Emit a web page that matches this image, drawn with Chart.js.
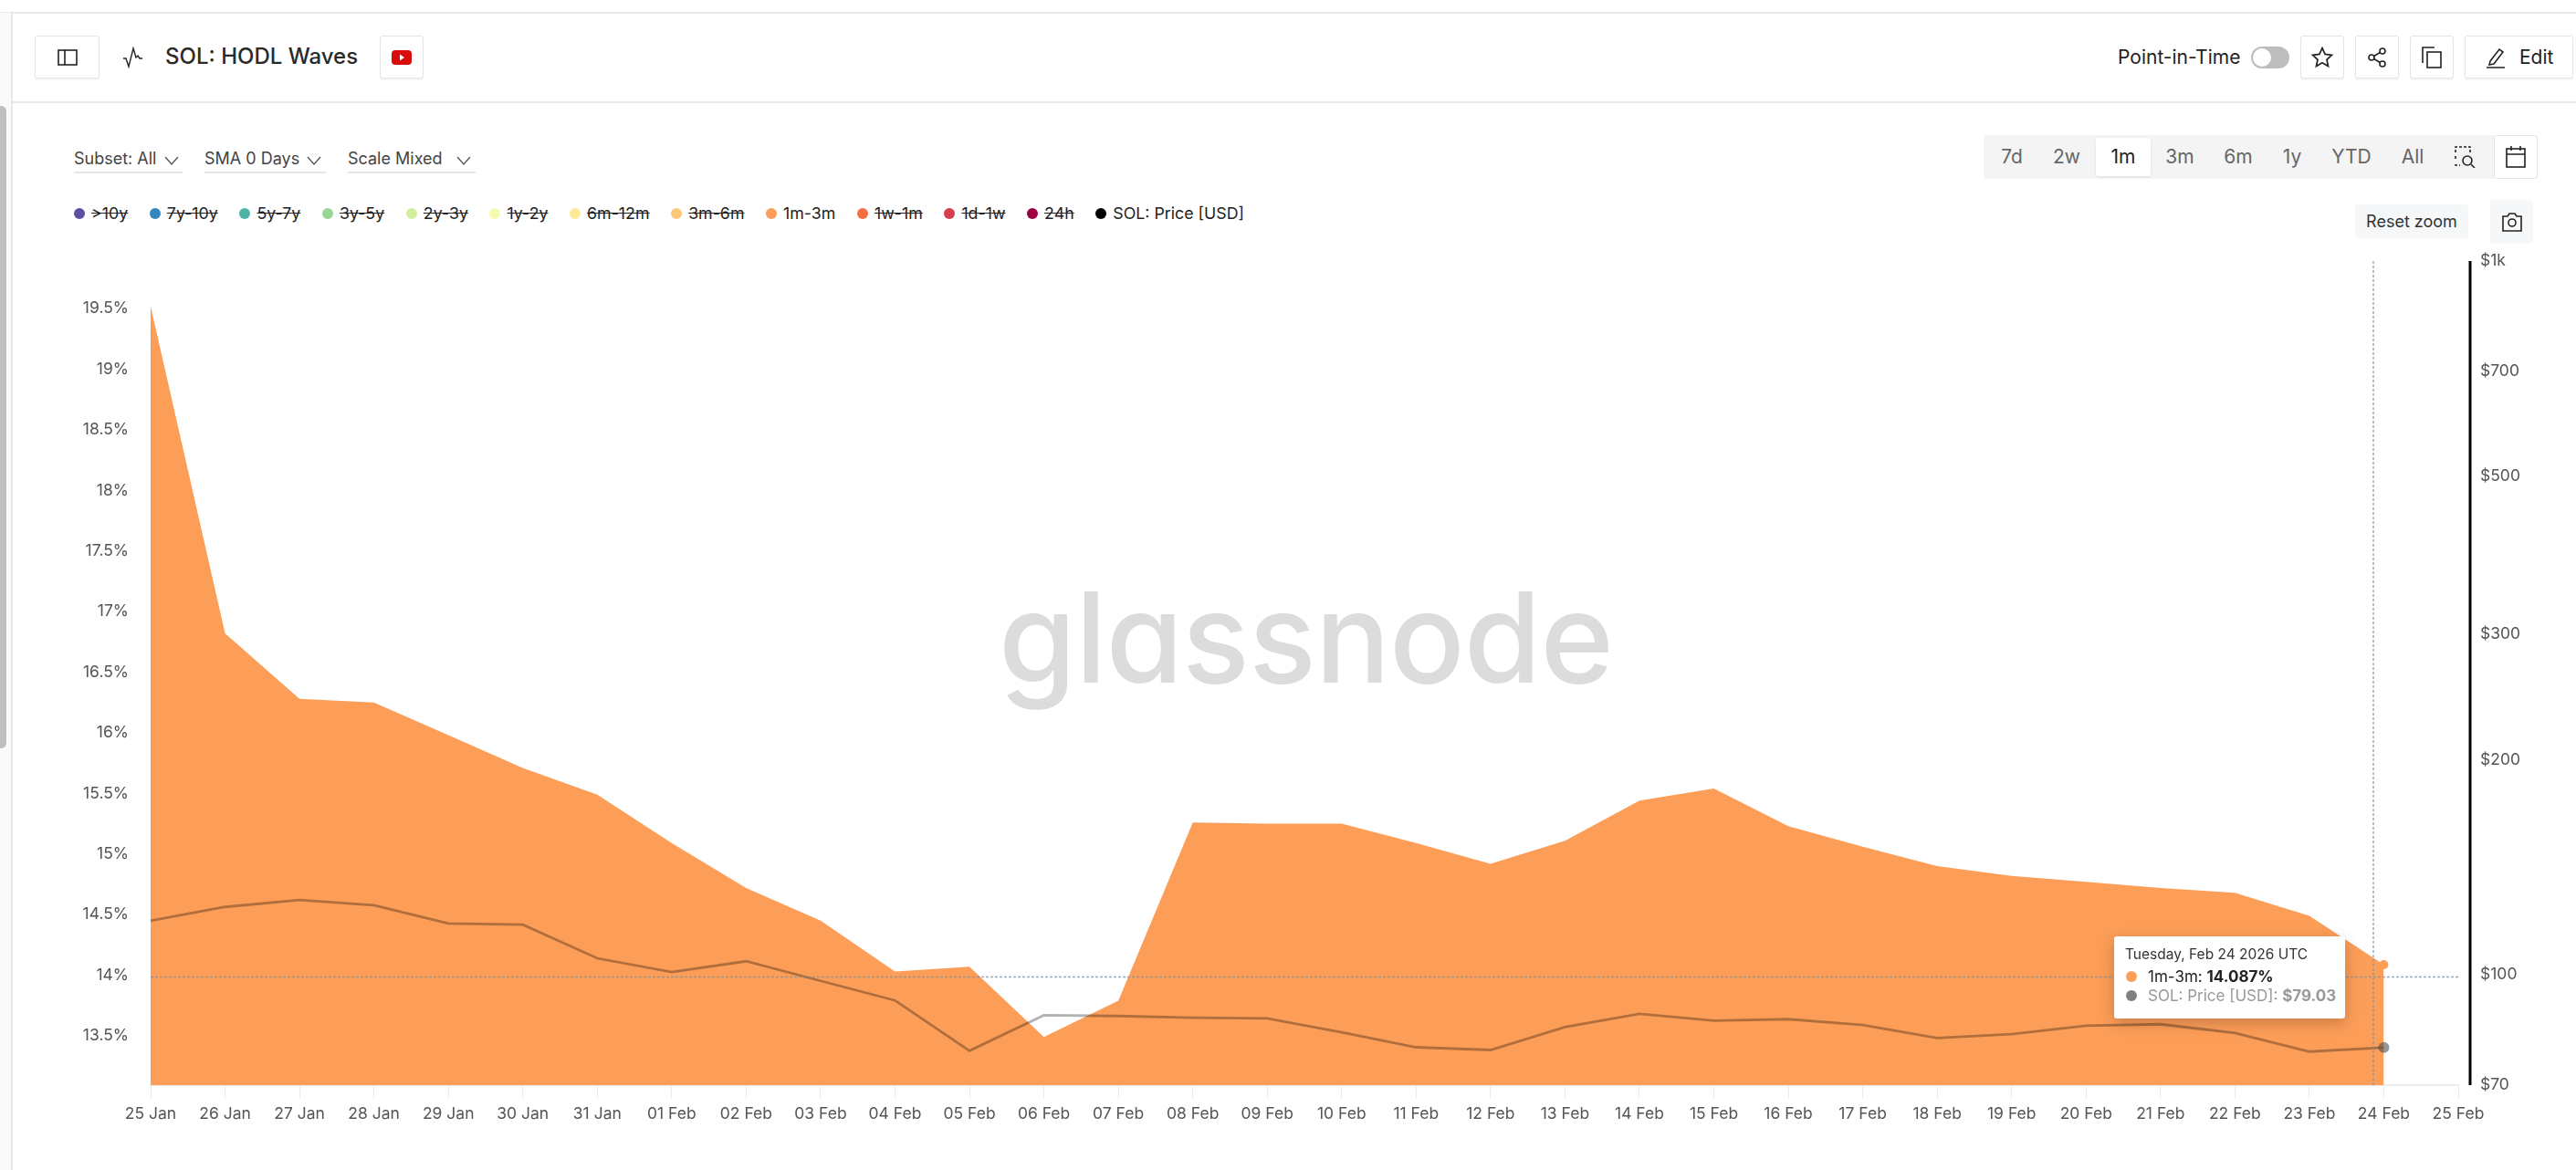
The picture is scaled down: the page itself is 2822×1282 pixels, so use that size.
<!DOCTYPE html>
<html>
<head>
<meta charset="utf-8">
<title>SOL: HODL Waves</title>
<script src="https://cdn.jsdelivr.net/npm/chart.js@4"></script>
<style>
  * { box-sizing: border-box; }
  html, body { margin: 0; padding: 0; width: 2822px; height: 1282px; overflow: hidden; background: #fff; font-family: Inter, sans-serif; color: #222; }
  .abs { position: absolute; }
  .btn { position: absolute; top: 39px; height: 47px; background: #fff; border: 1px solid #e4e4e6; border-radius: 3px; box-shadow: 0 2px 2px rgba(0,0,0,.05); display: flex; align-items: center; justify-content: center; }
  svg { display: block; fill: none; stroke: #222; stroke-width: 1.6; }
  #strip { left: 0; top: 14px; width: 14px; height: 1268px; background: #fafafa; border-right: 2px solid #e8e8e8; }
  #scrollbar { left: 0; top: 116px; width: 7px; height: 704px; background: #bfbfbf; border-radius: 0 6px 6px 0; }
  #topline { left: 0; top: 13px; width: 2822px; height: 2px; background: #e8e8e8; }
  #headline { left: 14px; top: 111px; width: 2808px; height: 2px; background: #e8e8e8; }
  #title { left: 181px; top: 47px; font-size: 24px; line-height: 30px; font-weight: 500; color: #2a2a2a; white-space: nowrap; }
  #pit { left: 2320px; top: 49px; font-size: 21px; line-height: 28px; white-space: nowrap; }
  #toggle { left: 2466px; top: 51px; width: 42px; height: 24px; border-radius: 12px; background: #bdbdbd; }
  #toggle i { position: absolute; left: 2px; top: 2px; width: 20px; height: 20px; border-radius: 50%; background: #fff; }
  .drop { position: absolute; top: 160px; height: 30px; border-bottom: 2px solid #e6e6e6; font-size: 18px; line-height: 28px; color: #444; white-space: nowrap; }
  .drop svg { position: absolute; top: 10px; stroke: #555; stroke-width: 1.3; }
  #ranges { left: 2173px; top: 148px; width: 559px; height: 48px; background: #f4f4f5; border-radius: 3px 0 0 3px; }
  #rangeOn { left: 2296px; top: 151px; width: 60px; height: 42px; background: #fff; border-radius: 3px; box-shadow: 0 1px 3px rgba(0,0,0,.1); }
  .range { position: absolute; top: 148px; height: 48px; line-height: 48px; font-size: 21px; color: #666; transform: translateX(-50%); white-space: nowrap; }
  #legend { left: 81px; top: 222px; height: 24px; display: flex; font-size: 17.8px; line-height: 24px; color: #222; white-space: nowrap; }
  #legend .item { display: flex; align-items: center; margin-right: 23.6px; }
  #legend .dot { width: 12px; height: 12px; border-radius: 50%; margin-right: 7px; }
  #legend .off span { text-decoration: line-through; }
  #reset { left: 2580px; top: 224px; width: 124px; height: 37px; background: #f6f7f9; border-radius: 4px; font-size: 18px; line-height: 37px; text-align: center; color: #333; }
  #camera { left: 2728px; top: 219px; width: 47px; height: 48px; background: #f6f7f9; border-radius: 4px; display: flex; align-items: center; justify-content: center; }
  #mark { left: 1094px; top: 613px; font-size: 137px; line-height: 170px; font-weight: 500; color: #dcdcdc; letter-spacing: -1px; font-feature-settings: 'cv11' 1; white-space: nowrap; }
  #chart { position: absolute; left: 0; top: 0; }
  #tip { left: 2316px; top: 1026px; width: 253px; height: 90px; background: #fff; border-radius: 3px; box-shadow: 0 5px 18px rgba(0,0,0,.22); }
  #tip div { position: absolute; white-space: nowrap; }
  #tipDate { left: 12px; top: 10px; font-size: 15.5px; line-height: 20px; color: #333; }
  .tipDot { left: 13px; width: 12px; height: 12px; border-radius: 50%; }
  .tipRow { left: 37px; font-size: 17px; line-height: 22px; }
</style>
</head>
<body>
<div class="abs" id="topline"></div>
<div class="abs" id="strip"></div>
<div class="abs" id="scrollbar"></div>
<div class="abs" id="headline"></div>

<div class="btn" style="left:38px;width:71px"><svg width="24" height="20" viewBox="0 0 24 20"><rect x="2" y="2" width="20" height="16"/><line x1="9" y1="2" x2="9" y2="18"/></svg></div>
<svg class="abs" style="left:134px;top:51px" width="24" height="24" viewBox="0 0 24 24"><path d="M1 13h3l3 9 5-20 3 10 2-2 2 3h3" stroke-width="1.4"/></svg>
<div class="abs" id="title">SOL: HODL Waves</div>
<div class="btn" style="left:416px;width:48px"><svg width="24" height="18" viewBox="0 0 24 18" style="stroke:none"><rect x="1" y="1" width="22" height="16" rx="4" fill="#d90c0c"/><path d="M10 5.5l5 3.5-5 3.5z" fill="#fff"/></svg></div>

<div class="abs" id="pit">Point-in-Time</div>
<div class="abs" id="toggle"><i></i></div>
<div class="btn" style="left:2520px;width:48px"><svg width="26" height="26" viewBox="0 0 24 24"><path d="M12 2.5l2.9 6.2 6.7.8-5 4.6 1.4 6.7-6-3.4-6 3.4 1.4-6.7-5-4.6 6.7-.8z"/></svg></div>
<div class="btn" style="left:2580px;width:48px"><svg width="24" height="24" viewBox="0 0 24 24"><circle cx="18" cy="5" r="3"/><circle cx="6" cy="12" r="3"/><circle cx="18" cy="19" r="3"/><path d="M8.6 10.5l6.8-4M8.6 13.5l6.8 4"/></svg></div>
<div class="btn" style="left:2640px;width:48px"><svg width="24" height="24" viewBox="0 0 24 24"><rect x="7" y="6" width="15" height="17"/><path d="M2 18V1h13"/></svg></div>
<div class="btn" style="left:2700px;width:119px;justify-content:flex-start"><svg style="margin-left:21px" width="24" height="24" viewBox="0 0 24 24"><path d="M6 16L16 3l4 3-10 13-5 1zM2 23h20"/></svg><span style="margin-left:14px;font-size:21px;color:#222">Edit</span></div>

<div class="drop" style="left:81px;width:119px">Subset: All<svg style="left:99px" width="16" height="12" viewBox="0 0 16 12"><path d="M1 2l7 8 7-8"/></svg></div>
<div class="drop" style="left:224px;width:133px">SMA 0 Days<svg style="left:112px" width="16" height="12" viewBox="0 0 16 12"><path d="M1 2l7 8 7-8"/></svg></div>
<div class="drop" style="left:381px;width:140px">Scale Mixed<svg style="left:119px" width="16" height="12" viewBox="0 0 16 12"><path d="M1 2l7 8 7-8"/></svg></div>

<div class="abs" id="ranges"></div>
<div class="abs" id="rangeOn"></div>
<div class="range" style="left:2204px">7d</div>
<div class="range" style="left:2264px">2w</div>
<div class="range" style="left:2326px;color:#222">1m</div>
<div class="range" style="left:2388px">3m</div>
<div class="range" style="left:2452px">6m</div>
<div class="range" style="left:2511px">1y</div>
<div class="range" style="left:2576px">YTD</div>
<div class="range" style="left:2643px">All</div>
<svg class="abs" style="left:2689px;top:160px" width="24" height="24" viewBox="0 0 24 24"><path d="M1 7V1h16v6M1 11v5M1 20v1h5" stroke-dasharray="3 2"/><circle cx="14" cy="16" r="5"/><path d="M18 20l4 4"/></svg>
<div class="btn" style="left:2732px;top:148px;width:48px;height:48px;box-shadow:none"><svg width="24" height="26" viewBox="0 0 24 26"><rect x="2" y="4" width="20" height="20"/><path d="M2 10h20M7 1v5M17 1v5"/></svg></div>

<div class="abs" id="legend"></div>
<div class="abs" id="reset">Reset zoom</div>
<div class="abs" id="camera"><svg width="24" height="24" viewBox="0 0 24 24"><path d="M2 6h5l2-3h6l2 3h5v16H2z"/><circle cx="12" cy="13" r="4"/></svg></div>

<div class="abs" id="mark">glassnode</div>
<canvas id="chart" width="2822" height="1282"></canvas>

<div class="abs" id="tip">
  <div id="tipDate"></div>
  <div class="tipDot" style="top:38px;background:#fd9e58"></div>
  <div class="tipRow" id="tipWave" style="top:33px;color:#222"></div>
  <div class="tipDot" style="top:59px;background:#808080"></div>
  <div class="tipRow" id="tipPrice" style="top:54px;color:#999"></div>
</div>

<script>
// Chart values
const dates = ['25 Jan', '26 Jan', '27 Jan', '28 Jan', '29 Jan', '30 Jan', '31 Jan',
    '01 Feb', '02 Feb', '03 Feb', '04 Feb', '05 Feb', '06 Feb', '07 Feb', '08 Feb', '09 Feb',
    '10 Feb', '11 Feb', '12 Feb', '13 Feb', '14 Feb', '15 Feb', '16 Feb', '17 Feb', '18 Feb',
    '19 Feb', '20 Feb', '21 Feb', '22 Feb', '23 Feb', '24 Feb', '25 Feb'];
const wave1m3m = [19.52, 16.82, 16.28, 16.25, 15.98, 15.71, 15.49,
    15.09, 14.72, 14.45, 14.03, 14.07, 13.49, 13.79, 15.26, 15.25,
    15.25, 15.09, 14.92, 15.11, 15.44, 15.54, 15.23, 15.06, 14.90,
    14.82, 14.77, 14.72, 14.68, 14.49, 14.087, null];
const solPrice = [119.0, 124.4, 127.2, 125.1, 117.9, 117.5, 105.4,
    100.8, 104.4, 98.0, 92.0, 78.2, 87.7, 87.5, 87.0, 86.8,
    83.0, 79.1, 78.4, 84.4, 88.1, 86.2, 86.6, 85.0, 81.5,
    82.5, 84.8, 85.2, 82.8, 78.0, 79.03, null];
const percentTicks = [13.5, 14, 14.5, 15, 15.5, 16, 16.5, 17, 17.5, 18, 18.5, 19, 19.5];
const priceTicks = [70, 100, 200, 300, 500, 700, 1000];
const legendNames = ['>10y', '7y-10y', '5y-7y', '3y-5y', '2y-3y', '1y-2y', '6m-12m', '3m-6m', '1m-3m', '1w-1m', '1d-1w', '24h', 'SOL: Price [USD]'];
const legendColors = ['#5e4fa2', '#3288bd', '#4cb5a8', '#99d594', '#d1ef9f', '#f6fbb0', '#fee999', '#fdc877', '#fd9e58', '#f46d43', '#d53e4f', '#9e0142', '#000000'];
const legendShown = ['1m-3m', 'SOL: Price [USD]'];

// Where the mouse sat when the picture was taken
const cursorIndex = 29.86;
const cursorPercent = 13.985;
const lastIndex = 30;

// HTML legend
legendNames.forEach((name, i) => {
    const item = document.createElement('div');
    item.className = 'item' + (legendShown.includes(name) ? '' : ' off');
    const dot = document.createElement('i');
    dot.className = 'dot';
    dot.style.background = legendColors[i];
    const text = document.createElement('span');
    text.textContent = name;
    item.append(dot, text);
    document.getElementById('legend').append(item);
});

// Tooltip text
document.getElementById('tipDate').textContent = 'Tuesday, Feb 24 2026 UTC';
document.getElementById('tipWave').innerHTML = '1m-3m: <b>' + wave1m3m[lastIndex].toFixed(3) + '%</b>';
document.getElementById('tipPrice').innerHTML = 'SOL: Price [USD]: <b>$' + solPrice[lastIndex].toFixed(2) + '</b>';

function priceLabel(v) {
    return v >= 1000 ? '$' + (v / 1000) + 'k' : '$' + v;
}

// Crosshair and the black price axis line
const overlayPlugin = {
    id: 'overlay',
    afterDatasetsDraw(chart) {
        const { ctx, chartArea, scales } = chart;
        const cx = scales.x.getPixelForValue(cursorIndex);
        const cy = scales.y.getPixelForValue(cursorPercent);
        ctx.save();
        ctx.strokeStyle = 'rgba(120, 145, 165, 0.75)';
        ctx.lineWidth = 1.5;
        ctx.setLineDash([3, 2]);
        ctx.beginPath();
        ctx.moveTo(chartArea.left, cy);
        ctx.lineTo(chartArea.right, cy);
        ctx.moveTo(cx, chartArea.top);
        ctx.lineTo(cx, chartArea.bottom);
        ctx.stroke();
        ctx.setLineDash([]);
        ctx.strokeStyle = '#000';
        ctx.lineWidth = 3;
        ctx.beginPath();
        ctx.moveTo(scales.y1.left + 13, chartArea.top);
        ctx.lineTo(scales.y1.left + 13, chartArea.bottom);
        ctx.stroke();
        ctx.restore();
    }
};

const tickFont = { family: 'Inter, sans-serif', size: 17.5 };

new Chart(document.getElementById('chart').getContext('2d'), {
    type: 'line',
    data: {
        labels: dates,
        datasets: [{
            label: 'SOL: Price [USD]',
            data: solPrice,
            yAxisID: 'y1',
            order: 1,
            borderColor: 'rgba(0, 0, 0, 0.3)',
            borderWidth: 2.8,
            tension: 0,
            fill: false,
            pointRadius: ctx => ctx.dataIndex === lastIndex ? 6 : 0,
            pointBackgroundColor: 'rgba(80, 80, 80, 0.6)',
            pointBorderWidth: 0
        }, {
            label: '1m-3m',
            data: wave1m3m,
            yAxisID: 'y',
            order: 2,
            borderWidth: 0,
            backgroundColor: '#fd9e58',
            tension: 0,
            fill: 'start',
            pointRadius: ctx => ctx.dataIndex === lastIndex ? 5 : 0,
            pointBackgroundColor: '#fd9e58',
            pointBorderWidth: 0
        }]
    },
    options: {
        responsive: false,
        animation: false,
        events: [],
        layout: { padding: { left: 65, right: 29, top: 286, bottom: 33 } },
        plugins: { legend: { display: false }, tooltip: { enabled: false } },
        scales: {
            x: {
                type: 'category',
                offset: false,
                grid: { drawOnChartArea: false, color: '#ececec', tickLength: 15 },
                border: { color: '#ececec', width: 2 },
                ticks: { autoSkip: false, maxRotation: 0, color: '#555', font: tickFont, padding: 6 },
                afterFit: axis => { axis.height = 60; }
            },
            y: {
                position: 'left',
                min: 13.093,
                max: 19.893,
                grid: { display: false, drawTicks: false },
                border: { display: false },
                ticks: { color: '#555', font: tickFont, padding: 24, callback: v => v + '%' },
                afterBuildTicks: axis => { axis.ticks = percentTicks.map(value => ({ value })); },
                afterFit: axis => { axis.width = 100; }
            },
            y1: {
                type: 'logarithmic',
                position: 'right',
                min: 70,
                max: 1000,
                grid: { display: false, drawTicks: false },
                border: { display: false },
                ticks: { color: '#555', font: tickFont, padding: 24, autoSkip: false, callback: priceLabel },
                afterBuildTicks: axis => { axis.ticks = priceTicks.map(value => ({ value })); },
                afterFit: axis => { axis.width = 100; }
            }
        }
    },
    plugins: [overlayPlugin]
});
</script>
</body>
</html>
